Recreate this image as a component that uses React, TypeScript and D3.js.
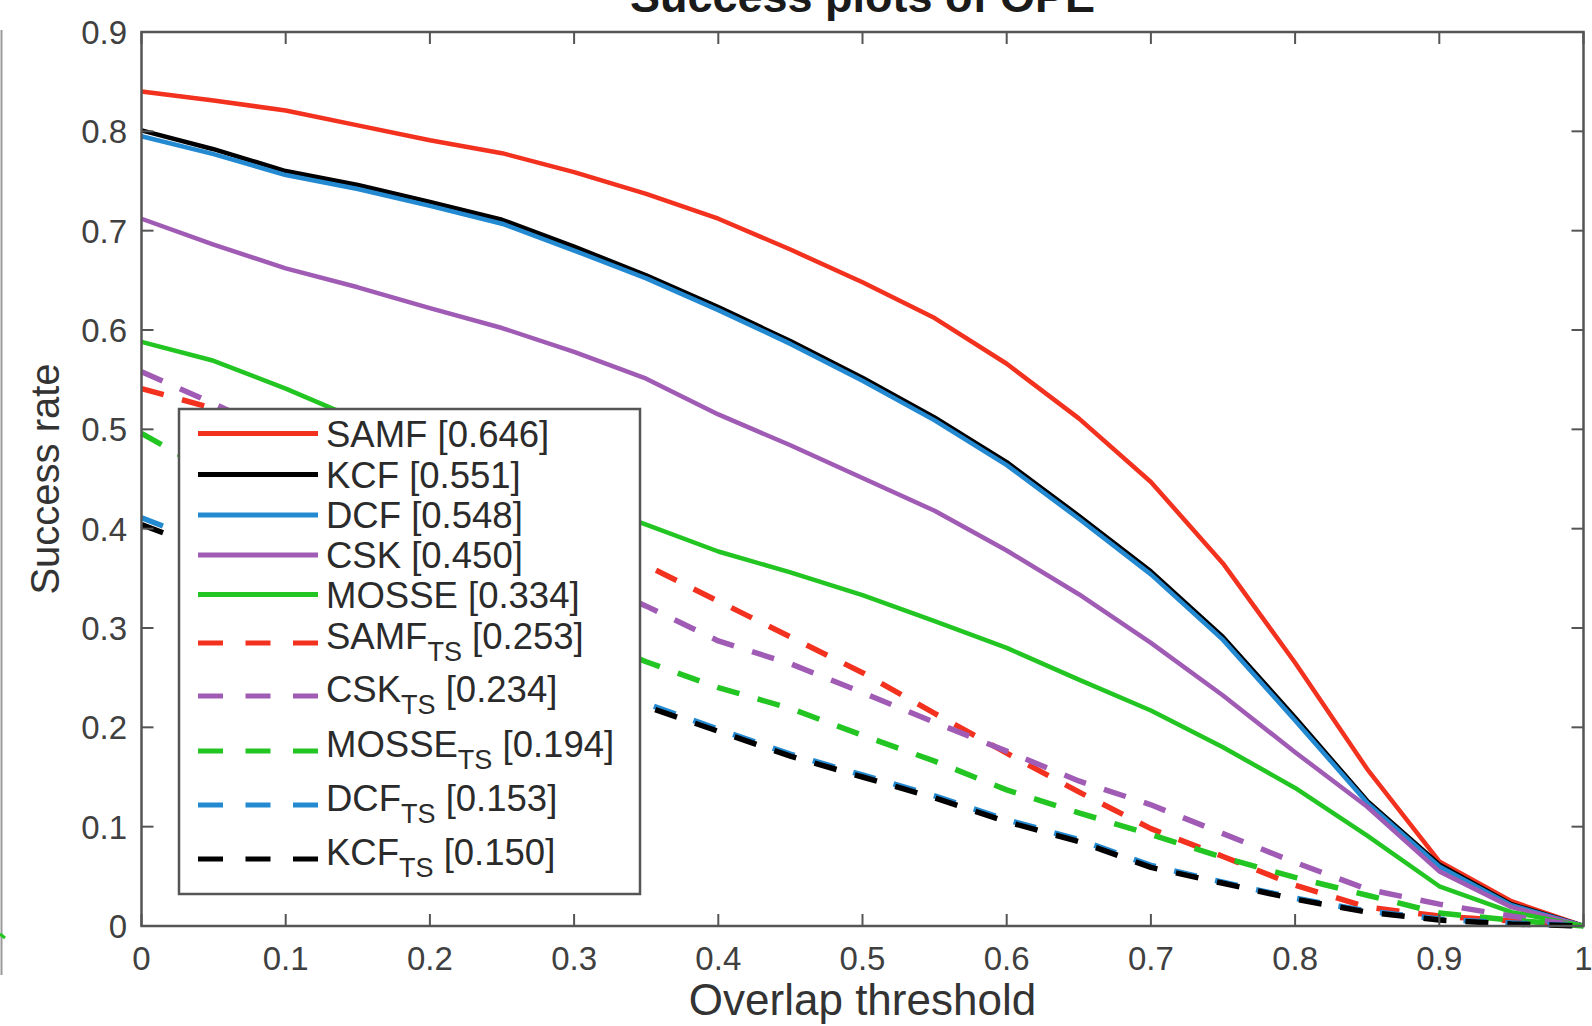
import React from 'react';
import * as d3 from 'd3';

// overlap thresholds (x) and success rates (y)
const thresholds = [0, 0.05, 0.1, 0.15, 0.2, 0.25, 0.3, 0.35, 0.4, 0.45, 0.5, 0.55, 0.6, 0.65, 0.7, 0.75, 0.8, 0.85, 0.9, 0.95, 1];

const samf = [0.840, 0.831, 0.821, 0.806, 0.791, 0.778, 0.759, 0.737, 0.712, 0.681, 0.648, 0.612, 0.566, 0.511, 0.447, 0.365, 0.265, 0.158, 0.065, 0.025, 0];
const kcf = [0.801, 0.782, 0.760, 0.746, 0.729, 0.711, 0.684, 0.655, 0.623, 0.589, 0.552, 0.512, 0.467, 0.413, 0.357, 0.291, 0.210, 0.126, 0.062, 0.022, 0];
const dcf = [0.795, 0.777, 0.756, 0.742, 0.725, 0.707, 0.680, 0.652, 0.620, 0.586, 0.549, 0.509, 0.464, 0.410, 0.354, 0.288, 0.207, 0.124, 0.060, 0.021, 0];
const csk = [0.712, 0.686, 0.662, 0.643, 0.622, 0.602, 0.578, 0.551, 0.515, 0.484, 0.451, 0.418, 0.378, 0.334, 0.285, 0.232, 0.175, 0.120, 0.055, 0.019, 0];
const mosse = [0.588, 0.569, 0.541, 0.510, 0.484, 0.458, 0.430, 0.404, 0.377, 0.356, 0.333, 0.307, 0.280, 0.248, 0.217, 0.180, 0.139, 0.091, 0.040, 0.014, 0];
const samfTS = [0.541, 0.521, 0.496, 0.470, 0.444, 0.418, 0.391, 0.363, 0.327, 0.291, 0.255, 0.214, 0.174, 0.135, 0.098, 0.070, 0.041, 0.019, 0.010, 0.005, 0];
const cskTS = [0.558, 0.526, 0.492, 0.457, 0.422, 0.388, 0.355, 0.322, 0.287, 0.264, 0.235, 0.205, 0.176, 0.146, 0.122, 0.093, 0.064, 0.037, 0.022, 0.010, 0];
const mosseTS = [0.496, 0.455, 0.420, 0.388, 0.357, 0.325, 0.295, 0.266, 0.240, 0.219, 0.192, 0.166, 0.137, 0.114, 0.092, 0.069, 0.049, 0.031, 0.013, 0.006, 0];
const dcfTS = [0.411, 0.383, 0.355, 0.328, 0.302, 0.276, 0.250, 0.224, 0.198, 0.173, 0.152, 0.131, 0.107, 0.087, 0.061, 0.044, 0.028, 0.015, 0.007, 0.003, 0];
const kcfTS = [0.404, 0.377, 0.350, 0.324, 0.298, 0.272, 0.247, 0.221, 0.196, 0.171, 0.150, 0.129, 0.105, 0.085, 0.059, 0.043, 0.027, 0.014, 0.006, 0.002, 0];

const xTicks = [0, 0.1, 0.2, 0.3, 0.4, 0.5, 0.6, 0.7, 0.8, 0.9, 1];
const yTicks = [0, 0.1, 0.2, 0.3, 0.4, 0.5, 0.6, 0.7, 0.8, 0.9];

interface Series {
    name: string;
    sub: string;
    score: string;
    values: number[];
    color: string;
    dashed: boolean;
}

const series: Series[] = [
    { name: 'SAMF', sub: '', score: '0.646', values: samf, color: '#f2311f', dashed: false },
    { name: 'KCF', sub: '', score: '0.551', values: kcf, color: '#000000', dashed: false },
    { name: 'DCF', sub: '', score: '0.548', values: dcf, color: '#2389d1', dashed: false },
    { name: 'CSK', sub: '', score: '0.450', values: csk, color: '#a05cb4', dashed: false },
    { name: 'MOSSE', sub: '', score: '0.334', values: mosse, color: '#22c522', dashed: false },
    { name: 'SAMF', sub: 'TS', score: '0.253', values: samfTS, color: '#f2311f', dashed: true },
    { name: 'CSK', sub: 'TS', score: '0.234', values: cskTS, color: '#a05cb4', dashed: true },
    { name: 'MOSSE', sub: 'TS', score: '0.194', values: mosseTS, color: '#22c522', dashed: true },
    { name: 'DCF', sub: 'TS', score: '0.153', values: dcfTS, color: '#2389d1', dashed: true },
    { name: 'KCF', sub: 'TS', score: '0.150', values: kcfTS, color: '#000000', dashed: true },
];

const W = 1592;
const H = 1026;
const plot = { left: 141.5, right: 1583.5, top: 32, bottom: 926 };
const axisColor = '#555';
const font = '"Liberation Sans", Arial, Helvetica, sans-serif';

// legend layout
const legendBox = { x: 179, y: 409, w: 461, h: 485 };
const legendRowY = [433.5, 474.5, 515, 555, 594.5, 643, 696, 751, 805, 859];

const App: React.FC = () => {
    const x = d3.scaleLinear().domain([0, 1]).range([plot.left, plot.right]);
    const y = d3.scaleLinear().domain([0, 0.9]).range([plot.bottom, plot.top]);

    const line = d3.line<number>()
        .x((_, i) => x(thresholds[i]))
        .y(d => y(d));

    const tickLen = 12;

    return (
        <svg width={W} height={H} style={{ position: 'absolute', left: 0, top: 0, background: '#fff' }}
            fontFamily={font}>
            <rect x={0} y={0} width={W} height={H} fill="#fff" />
            <defs>
                <clipPath id="plotClip">
                    <rect x={plot.left - 3} y={plot.top} width={plot.right - plot.left + 6} height={plot.bottom - plot.top + 4} />
                </clipPath>
            </defs>

            {/* edge of neighbouring panel */}
            <line x1={1.5} x2={1.5} y1={30} y2={975} stroke="#9a9a9a" strokeWidth={2} />
            <line x1={0} x2={5} y1={934} y2={938} stroke="#22c522" strokeWidth={3} />

            {/* title, cut off at the top */}
            <text x={(plot.left + plot.right) / 2} y={12} textAnchor="middle" fontSize={45}
                fontWeight="bold" fill="#1a1a1a">Success plots of OPE</text>

            {/* curves */}
            <g clipPath="url(#plotClip)">
                {series.map((s, i) => (
                    <path key={i} d={line(s.values) || ''} fill="none" stroke={s.color}
                        strokeWidth={s.dashed ? 5.5 : 4.5}
                        strokeDasharray={s.dashed ? '23 19' : undefined}
                        strokeLinejoin="round" />
                ))}
            </g>

            {/* axes box */}
            <rect x={plot.left} y={plot.top} width={plot.right - plot.left} height={plot.bottom - plot.top}
                fill="none" stroke={axisColor} strokeWidth={2.5} />
            {xTicks.map(t => (
                <g key={'xt' + t}>
                    <line x1={x(t)} x2={x(t)} y1={plot.bottom} y2={plot.bottom - tickLen} stroke={axisColor} strokeWidth={2} />
                    <line x1={x(t)} x2={x(t)} y1={plot.top} y2={plot.top + tickLen} stroke={axisColor} strokeWidth={2} />
                    <text x={x(t)} y={970} textAnchor="middle" fontSize={33} fill="#404040">{String(t)}</text>
                </g>
            ))}
            {yTicks.map(t => (
                <g key={'yt' + t}>
                    <line x1={plot.left} x2={plot.left + tickLen} y1={y(t)} y2={y(t)} stroke={axisColor} strokeWidth={2} />
                    <line x1={plot.right} x2={plot.right - tickLen} y1={y(t)} y2={y(t)} stroke={axisColor} strokeWidth={2} />
                    <text x={127} y={y(t) + 12} textAnchor="end" fontSize={33} fill="#404040">{String(t)}</text>
                </g>
            ))}

            {/* axis labels */}
            <text x={(plot.left + plot.right) / 2} y={1015} textAnchor="middle" fontSize={44} fill="#333">Overlap threshold</text>
            <text transform={`translate(59,${(plot.top + plot.bottom) / 2}) rotate(-90)`} textAnchor="middle"
                fontSize={40} fill="#333">Success rate</text>

            {/* legend */}
            <rect x={legendBox.x} y={legendBox.y} width={legendBox.w} height={legendBox.h}
                fill="#fff" stroke={axisColor} strokeWidth={2.5} />
            {series.map((s, i) => {
                const ly = legendRowY[i];
                const by = s.sub ? ly + 6 : ly + 13;
                return (
                    <g key={'lg' + i}>
                        <line x1={198} x2={318} y1={ly} y2={ly} stroke={s.color} strokeWidth={5}
                            strokeDasharray={s.dashed ? '25 22.5' : undefined} />
                        <text x={326} y={by} fontSize={36.5} fill="#2b2b2b">
                            {s.name}
                            {s.sub ? <tspan fontSize={27} dy={12}>{s.sub}</tspan> : null}
                            {s.sub ? <tspan dy={-12}>{' [' + s.score + ']'}</tspan> : <tspan>{' [' + s.score + ']'}</tspan>}
                        </text>
                    </g>
                );
            })}
        </svg>
    );
};

export default App;
